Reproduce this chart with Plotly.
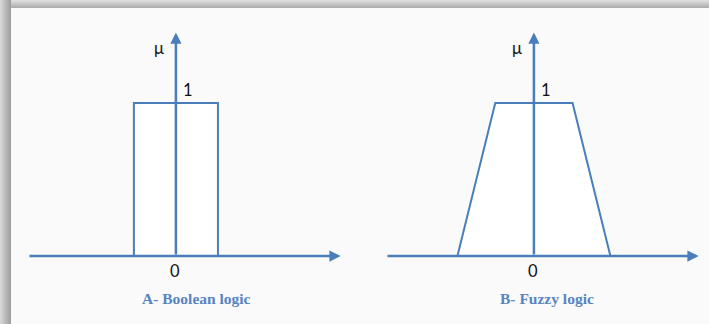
import plotly.graph_objects as go

# Membership functions (x, mu) for the two panels
bool_x = [-0.5, -0.5, 0.5, 0.5]
bool_mu = [0, 1, 1, 0]
fuzzy_x = [-0.91, -0.46, 0.46, 0.91]
fuzzy_mu = [0, 1, 1, 0]

panel_titles = ["A- Boolean logic", "B- Fuzzy logic"]
tick_one = "1"
tick_zero = "0"
axis_label = "μ"

W, H = 709, 324
BLUE = "#4A7EBB"
TITLE_BLUE = "#5784C0"

X_RANGE = [-1.76, 2.0]
Y_RANGE = [-0.4, 1.5]


def px(x):
    return x / W


def py(y):
    return 1 - y / H


fig = go.Figure()

panels = [
    (bool_x, bool_mu, "x", "y", [px(28), px(344)]),
    (fuzzy_x, fuzzy_mu, "x2", "y2", [px(386), px(702)]),
]

layout = dict(
    width=W, height=H, margin=dict(l=0, r=0, t=0, b=0),
    paper_bgcolor="#FAFAFA", plot_bgcolor="rgba(0,0,0,0)",
    showlegend=False, shapes=[], annotations=[],
)

title_offsets = [0.25, 0.15]

for i, (xs, ys, xa, ya, dom) in enumerate(panels):
    fig.add_trace(go.Scatter(
        x=xs, y=ys, xaxis=xa, yaxis=ya, mode="lines", fill="toself",
        fillcolor="#FFFFFF", line=dict(color=BLUE, width=2),
        hoverinfo="skip",
    ))
    suffix = "" if i == 0 else "2"
    layout["xaxis" + suffix] = dict(
        domain=dom, range=X_RANGE, visible=False, fixedrange=True,
        anchor=ya,
    )
    layout["yaxis" + suffix] = dict(
        domain=[py(317.2), py(26.5)], range=Y_RANGE, visible=False,
        fixedrange=True, anchor=xa,
    )
    # horizontal axis arrow
    layout["annotations"].append(dict(
        x=X_RANGE[1] - 0.04, y=0, ax=X_RANGE[0], ay=0, xref=xa, yref=ya,
        axref=xa, ayref=ya, text="", showarrow=True, arrowhead=2,
        arrowsize=0.9, arrowwidth=2.5, arrowcolor=BLUE, standoff=0,
    ))
    # vertical axis arrow
    layout["annotations"].append(dict(
        x=0, y=1.46, ax=0, ay=0, xref=xa, yref=ya,
        axref=xa, ayref=ya, text="", showarrow=True, arrowhead=2,
        arrowsize=0.9, arrowwidth=2.5, arrowcolor=BLUE, standoff=0,
    ))
    text_font = dict(family="Lato, Carlito, sans-serif", size=16.5, color="#111111")
    layout["annotations"] += [
        dict(x=-0.2, y=1.36, xref=xa, yref=ya, text=axis_label,
             showarrow=False, font=text_font),
        dict(x=0.14, y=1.085, xref=xa, yref=ya, text=tick_one,
             showarrow=False, font=text_font),
        dict(x=-0.01, y=-0.1, xref=xa, yref=ya, text=tick_zero,
             showarrow=False, font=text_font),
        dict(x=title_offsets[i], y=-0.275, xref=xa, yref=ya,
             text="<b>" + panel_titles[i] + "</b>", showarrow=False,
             font=dict(family="Liberation Serif, Times New Roman, serif",
                       size=15.5, color=TITLE_BLUE)),
    ]

# soft drop shadow along the top and left edges of the card
for j in range(8):
    g = int(222 - j * 7)
    layout["shapes"].append(dict(
        type="rect", xref="paper", yref="paper", layer="below",
        x0=0, x1=1, y0=py(j + 1), y1=py(j), line=dict(width=0),
        fillcolor=f"rgb({g},{g},{g})",
    ))
for j in range(11):
    g = int(214 - j * 5.5)
    layout["shapes"].append(dict(
        type="rect", xref="paper", yref="paper", layer="below",
        x0=px(j), x1=px(j + 1), y0=0, y1=1, line=dict(width=0),
        fillcolor=f"rgb({g},{g},{g})",
    ))

fig.update_layout(**layout)
fig.write_html("out.html")
